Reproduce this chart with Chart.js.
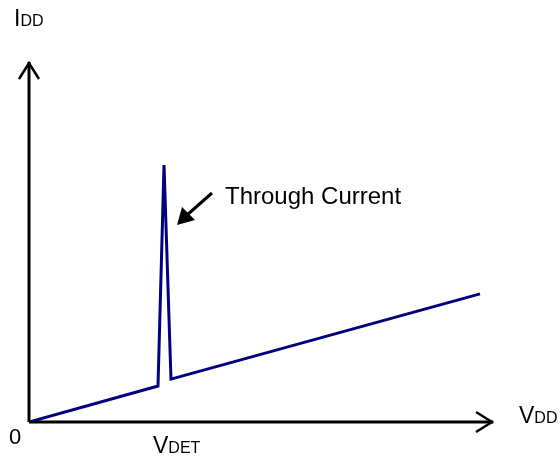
<!DOCTYPE html>
<html>
<head>
<meta charset="utf-8">
<script src="https://cdn.jsdelivr.net/npm/chart.js@4"></script>
<style>
  body { margin: 0; background: #fff; }
  #wrap { width: 560px; height: 457px; }
</style>
</head>
<body>
<div id="wrap"><canvas id="chart" width="560" height="457"></canvas></div>
<script>
// supply voltage (x) vs supply current (y), arbitrary units
const vdd = [0, 2.78, 2.91, 3.06, 9.72];
const idd = [0, 1.0, 7.14, 1.19, 3.56];
const xRange = [0, 10];
const yRange = [0, 10];

const FONT = 'Liberation Sans, Arial, sans-serif';

// draws text with a big first letter and smaller caps after it
function smallCaps(ctx, x, y, first, rest, big, small) {
  ctx.font = big + 'px ' + FONT;
  ctx.fillText(first, x, y);
  const w = ctx.measureText(first).width;
  ctx.font = small + 'px ' + FONT;
  ctx.fillText(rest, x + w, y);
}

const axesPlugin = {
  id: 'axesArrows',
  afterDatasetsDraw(chart) {
    const { ctx, chartArea: a } = chart;
    ctx.save();
    ctx.strokeStyle = '#000';
    ctx.lineWidth = 3;
    ctx.lineCap = 'butt';
    // axes
    ctx.beginPath();
    ctx.moveTo(a.left, a.bottom);
    ctx.lineTo(a.left, a.top);
    ctx.moveTo(a.left, a.bottom);
    ctx.lineTo(a.right, a.bottom);
    ctx.stroke();
    ctx.lineWidth = 2.5;
    ctx.lineJoin = 'miter';
    ctx.beginPath();
    ctx.moveTo(a.left - 10, a.top + 17);
    ctx.lineTo(a.left, a.top + 1);
    ctx.lineTo(a.left + 10, a.top + 17);
    ctx.moveTo(a.right - 17, a.bottom - 10);
    ctx.lineTo(a.right - 1, a.bottom);
    ctx.lineTo(a.right - 17, a.bottom + 10);
    ctx.stroke();

    // pointer to the spike
    ctx.lineWidth = 3;
    ctx.beginPath();
    ctx.moveTo(212, 193);
    ctx.lineTo(187, 215);
    ctx.stroke();
    ctx.fillStyle = '#000';
    ctx.beginPath();
    ctx.moveTo(177, 225);
    ctx.lineTo(182, 207);
    ctx.lineTo(195, 220);
    ctx.closePath();
    ctx.fill();

    // labels
    ctx.textBaseline = 'alphabetic';
    ctx.textAlign = 'left';
    smallCaps(ctx, 14, 26, 'I', 'DD', 23, 16);
    smallCaps(ctx, 519, 423, 'V', 'DD', 23, 16);
    smallCaps(ctx, 153, 453, 'V', 'DET', 23, 16);
    ctx.font = '22px ' + FONT;
    ctx.fillText('0', 9, 444);
    ctx.font = '24px ' + FONT;
    ctx.fillText('Through Current', 225, 204);
    ctx.restore();
  }
};

new Chart(document.getElementById('chart'), {
  type: 'line',
  data: {
    datasets: [{
      data: vdd.map((v, i) => ({ x: v, y: idd[i] })),
      borderColor: '#000080',
      borderWidth: 3,
      pointRadius: 0,
      tension: 0,
      fill: false
    }]
  },
  options: {
    responsive: false,
    animation: false,
    layout: { padding: { left: 29, top: 62, right: 67, bottom: 35 } },
    plugins: { legend: { display: false }, tooltip: { enabled: false } },
    scales: {
      x: { type: 'linear', min: xRange[0], max: xRange[1], display: false },
      y: { type: 'linear', min: yRange[0], max: yRange[1], display: false }
    }
  },
  plugins: [axesPlugin]
});
</script>
</body>
</html>
